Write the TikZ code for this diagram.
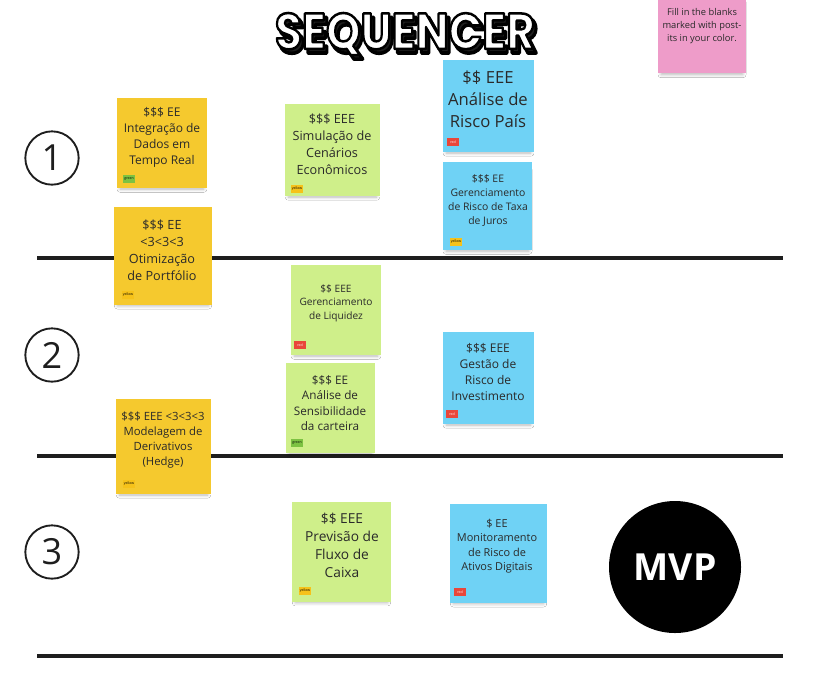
\documentclass[tikz,border=0pt]{standalone}
\usepackage{fontspec}
\setmainfont{Open Sans}
\newfontfamily\titlefont{Poppins}
\usetikzlibrary{shadows.blur}
\definecolor{nyellow}{HTML}{F5C92E}
\definecolor{ngreen}{HTML}{CFEF8A}
\definecolor{nblue}{HTML}{6FD2F5}
\definecolor{npink}{HTML}{EE9CC9}
\definecolor{tgreen}{HTML}{7CC242}
\definecolor{tyellow}{HTML}{F6C21A}
\definecolor{tred}{HTML}{E9463A}
\definecolor{ink}{HTML}{1E1E1E}
\definecolor{txt}{HTML}{2A2A2A}
\tikzset{
  note/.style={rectangle, draw=none, inner sep=0pt,
    blur shadow={shadow xshift=0pt, shadow yshift=-3.5pt, shadow scale=0.93, shadow blur radius=2.5pt, shadow blur steps=6, shadow opacity=28}},
  ntext/.style={align=center, text=txt, inner sep=0pt},
  tag/.style={rectangle, inner sep=0pt, minimum width=9pt, minimum height=6pt, font=\fontsize{2.6}{3}\selectfont},
  rowline/.style={draw=ink, line width=3pt},
  numcircle/.style={circle, draw=ink, line width=1.4pt, minimum size=40pt, inner sep=0pt,
    font=\fontsize{27}{30}\selectfont, text=ink},
}
\newcommand{\postit}[6]{\node[note, fill=#2, minimum width=#5*0.75pt, minimum height=#6*0.75pt] (#1) at (#3,#4) {};}
% stroked title text: #1 = line width in unscaled units
\newcommand{\ttlstroke}[1]{\resizebox{195pt}{27pt}{\titlefont\bfseries\special{pdf:literal direct 0 0 0 RG 1 j 1 J #1 w 2 Tr}SEQUENCER\special{pdf:literal direct 0 Tr}}}
\begin{document}
\begin{tikzpicture}[x=0.75pt, y=-0.75pt]
\useasboundingbox (0,0) rectangle (816,687);
\fill[white] (0,0) rectangle (816,687);

% title: shadow then outlined white letters
\node[inner sep=0pt, text=ink] (tshadow) at (408,38) {\ttlstroke{0.7}};
\node[inner sep=0pt, text=white] (title) at (405,34) {\ttlstroke{0.5}};

% row lines
\coordinate (l1a) at (37,258); \coordinate (l1b) at (783,258);
\coordinate (l2a) at (37,456); \coordinate (l2b) at (783,456);
\coordinate (l3a) at (37,656); \coordinate (l3b) at (783,656);
\draw[rowline] (l1a) -- (l1b);
\draw[rowline] (l2a) -- (l2b);
\draw[rowline] (l3a) -- (l3b);

% circled numbers
\node[numcircle] (n1) at (52,158) {1};
\node[numcircle] (n2) at (52,355) {2};
\node[numcircle] (n3) at (52,552) {3};

% MVP
\node[circle, fill=black, minimum size=99pt, inner sep=0pt, text=white,
  font=\fontsize{28}{30}\selectfont\bfseries] (mvp) at (675,567) {MVP};

% pink instruction note
\postit{pink}{npink}{702}{34}{88}{78}
\node[ntext, font=\fontsize{7}{9.75}\selectfont] (pinkt) at (702,26) {Fill in the blanks\\marked with post-\\its in your color.};

% 1
\postit{a}{nyellow}{162}{143}{90}{90}
\node[ntext, font=\fontsize{9}{12}\selectfont] (at) at (162,137) {\$\$\$ EE\\Integração de\\Dados em\\Tempo Real};
\node[tag, fill=tgreen] (ag) at (129,179) {green};
% 2
\postit{b}{ngreen}{332.5}{150}{95}{92}
\node[ntext, font=\fontsize{9.5}{12.75}\selectfont] (bt) at (332,144) {\$\$\$ EEE\\Simulação de\\Cenários\\Econômicos};
\node[tag, fill=tyellow] (bg) at (297,189) {yellow};
% 3
\postit{c}{nblue}{488.5}{106}{91}{92}
\node[ntext, font=\fontsize{12.5}{16.5}\selectfont] (ct) at (488,99) {\$\$ EEE\\Análise de\\Risco País};
\node[tag, fill=tred, text=white] (cg) at (453,142) {red};
% 4
\postit{d}{nblue}{487.5}{206}{89}{88}
\node[ntext, font=\fontsize{7.8}{10.5}\selectfont] (dt) at (488,201) {\$\$\$ EE\\Gerenciamento\\de Risco de Taxa\\de Juros};
\node[tag, fill=tyellow] (dg) at (456,242) {yellow};
% 5
\postit{e}{nyellow}{163}{256}{98}{98}
\node[ntext, font=\fontsize{9.5}{12.75}\selectfont] (et) at (162,250) {\$\$\$ EE\\<3<3<3\\Otimização\\de Portfólio};
\node[tag, fill=tyellow] (eg) at (128,295) {yellow};
% 6
\postit{f}{ngreen}{336}{310}{90}{90}
\node[ntext, font=\fontsize{7.6}{10.1}\selectfont] (ft) at (336,303) {\$\$ EEE\\Gerenciamento\\de Liquidez};
\node[tag, fill=tred, text=white] (fg) at (300,345) {red};
% 7
\postit{g}{ngreen}{330.5}{408}{89}{90}
\node[ntext, font=\fontsize{8.8}{11.6}\selectfont] (gt) at (330,403) {\$\$\$ EE\\Análise de\\Sensibilidade\\da carteira};
\node[tag, fill=tgreen] (gg) at (297,443) {green};
% 8
\postit{h}{nyellow}{163.5}{446.5}{95}{95}
\node[ntext, font=\fontsize{8.5}{11.25}\selectfont] (ht) at (163,440) {\$\$\$ EEE <3<3<3\\Modelagem de\\Derivativos\\(Hedge)};
\node[tag, fill=tyellow] (hg) at (129,484) {yellow};
% 9
\postit{i}{nblue}{488.5}{378}{91}{92}
\node[ntext, font=\fontsize{9}{12}\selectfont] (it) at (488,372) {\$\$\$ EEE\\Gestão de\\Risco de\\Investimento};
\node[tag, fill=tred, text=white] (ig) at (452,414) {red};
% 10
\postit{j}{ngreen}{341.5}{552}{99}{100}
\node[ntext, font=\fontsize{10.3}{13.5}\selectfont] (jt) at (342,545) {\$\$ EEE\\Previsão de\\Fluxo de\\Caixa};
\node[tag, fill=tyellow] (jg) at (305,591) {yellow};
% 11
\postit{k}{nblue}{498.5}{553.5}{97}{99}
\node[ntext, font=\fontsize{8.2}{10.9}\selectfont] (kt) at (497,546) {\$ EE\\Monitoramento\\de Risco de\\Ativos Digitais};
\node[tag, fill=tred, text=white] (kg) at (460,592) {red};
\end{tikzpicture}
\end{document}
